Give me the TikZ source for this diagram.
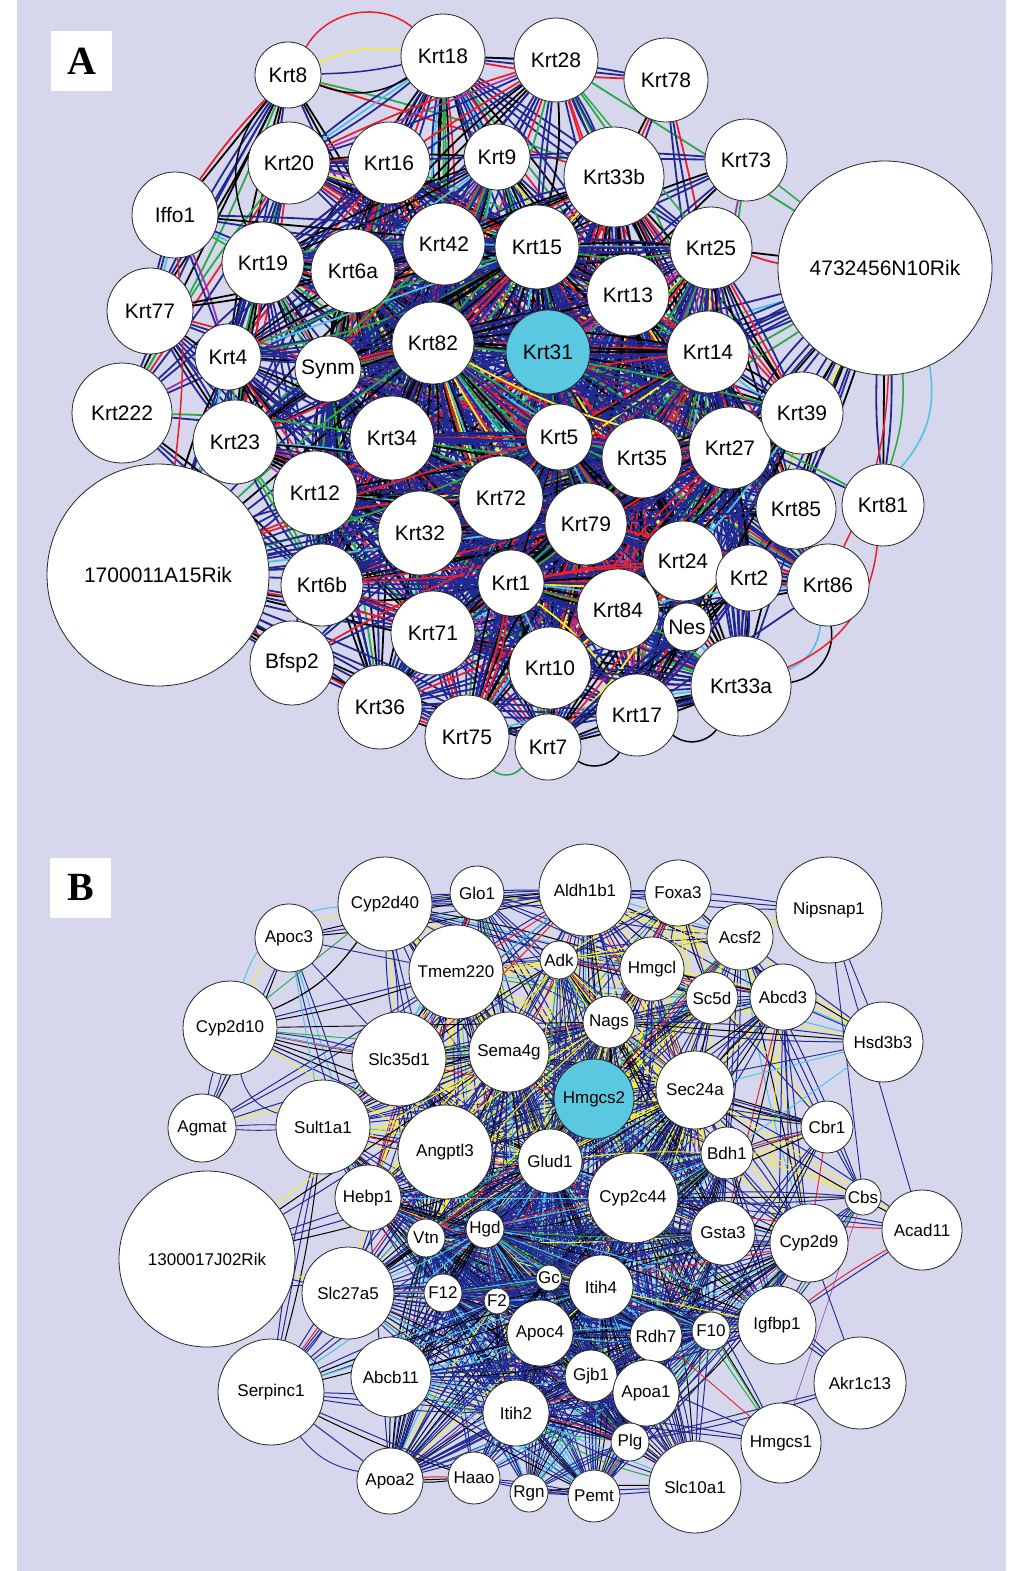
\documentclass[tikz,border=0pt]{standalone}
\usepackage{fontspec}
\setmainfont{Liberation Sans}
\newfontfamily\serifb{Liberation Serif}
\definecolor{bgl}{RGB}{214,214,236}
\definecolor{navy}{RGB}{32,40,145}
\definecolor{ered}{RGB}{235,30,45}
\definecolor{egreen}{RGB}{40,170,70}
\definecolor{ecyan}{RGB}{70,195,230}
\definecolor{eyellow}{RGB}{250,240,40}
\definecolor{epurple}{RGB}{160,50,170}
\definecolor{hub}{RGB}{90,200,225}
\pgfdeclarelayer{bg}\pgfdeclarelayer{edges}
\pgfsetlayers{bg,edges,main}
\def\nodefont{\fontsize{21}{23}\selectfont}
\tikzset{
  gnode/.style={circle, draw=black!85, line width=0.8pt, fill=white, inner sep=0pt, text=black, font=\nodefont},
  hubnode/.style={fill=hub},
  lwA/.style={line width=1.5pt},
  lwB/.style={line width=0.9pt},
  panellabel/.style={fill=white, minimum width=61pt, minimum height=60pt, inner sep=0pt, font=\serifb\bfseries\fontsize{40}{40}\selectfont}
}
% node: [style]{name}{x}{y}{r}{weight}{text}
\newcommand\gn[7][]{%
  \node[gnode,minimum size={2*#5pt},#1] (#2) at (#3,#4) {#7};%
  \expandafter\xdef\csname gr@#2\endcsname{#5}%
  \expandafter\xdef\csname gw@#2\endcsname{#6}%
}
\newcommand\palA{\pgfmathrandominteger{\rc}{1}{100}%
 \ifnum\rc<54 \def\ec{navy}\else
 \ifnum\rc<73 \def\ec{black}\else
 \ifnum\rc<86 \def\ec{ered}\else
 \ifnum\rc<94 \def\ec{egreen}\else
 \ifnum\rc<97 \def\ec{ecyan}\else
 \ifnum\rc<99 \def\ec{eyellow}\else \def\ec{epurple}\fi\fi\fi\fi\fi\fi}
\newcommand\palB{\pgfmathrandominteger{\rc}{1}{100}%
 \pgfmathtruncatemacro\my{-(\ya+\yb)/2}%
 \ifnum\my<1170 \def\ty{22}\def\tc{3}\else\def\ty{3}\def\tc{11}\fi
 \pgfmathtruncatemacro\tC{72+\ty}%
 \pgfmathtruncatemacro\tD{\tC+\tc}%
 \pgfmathtruncatemacro\tE{\tD+2}%
 \pgfmathtruncatemacro\tF{\tE+2}%
 \pgfmathtruncatemacro\tG{\tF+1}%
 \ifnum\rc<56 \def\ec{navy}\else
 \ifnum\rc<73 \def\ec{black}\else
 \ifnum\rc>\tG \def\ec{navy}\else
 \ifnum\rc>\tF \def\ec{epurple}\else
 \ifnum\rc>\tE \def\ec{egreen}\else
 \ifnum\rc>\tD \def\ec{ered}\else
 \ifnum\rc>\tC \def\ec{ecyan}\else \def\ec{eyellow}\fi\fi\fi\fi\fi\fi\fi}
% #1 list, #2 gap threshold, #3 prob factor, #4 palette, #5 width, #6/#7/#8 extra-line chances
\newcommand\mkedges[8]{%
 \foreach \a [count=\i] in #1 {%
  \foreach \b [count=\j] in #1 {%
   \ifnum\j>\i\relax
     \pgfpointanchor{\a}{center}\pgfgetlastxy{\xa}{\ya}%
     \pgfpointanchor{\b}{center}\pgfgetlastxy{\xb}{\yb}%
     \pgfmathtruncatemacro\gap{veclen(\xa-\xb,\ya-\yb)-\csname gr@\a\endcsname-\csname gr@\b\endcsname}%
     \pgfmathtruncatemacro\wp{\csname gw@\a\endcsname*\csname gw@\b\endcsname}%
     \pgfmathtruncatemacro\prob{#3*\wp}%
     \pgfmathrandominteger{\rr}{1}{100}%
     \ifnum\gap<#2\relax \ifnum\rr<\prob\relax
        #4\draw[line width=#5, draw=\ec] (\a) -- (\b);%
        \pgfmathrandominteger{\rs}{1}{100}%
        \ifnum\rs<#6\relax #4\draw[line width=#5, draw=\ec] (\a) to[bend left=4] (\b);\fi
        \pgfmathrandominteger{\rs}{1}{100}%
        \ifnum\rs<#7\relax #4\draw[line width=#5, draw=\ec] (\a) to[bend right=4] (\b);\fi
        \ifnum\wp>5\relax
          \pgfmathrandominteger{\rs}{1}{100}%
          \ifnum\rs<#8\relax #4\draw[line width=#5, draw=\ec] (\a) to[bend left=9] (\b);\fi
          \pgfmathrandominteger{\rs}{1}{100}%
          \ifnum\rs<#8\relax #4\draw[line width=#5, draw=\ec] (\a) to[bend right=9] (\b);\fi
        \fi
     \fi\fi
   \fi
  }%
 }%
}
\def\listA{Krt8,Krt18,Krt28,Krt78,Krt20,Krt16,Krt9,Krt33b,Krt73,RikA,Iffo1,Krt19,Krt6a,Krt42,Krt15,Krt25,Krt13,Krt31,Krt14,Krt77,Krt4,Synm,Krt82,Krt222,Krt23,Krt34,Krt12,Krt32,Krt72,RikB,Krt6b,Bfsp2,Krt71,Krt36,Krt75,Krt5,Krt35,Krt27,Krt39,Krt79,Krt85,Krt81,Krt1,Krt24,Krt2,Krt86,Krt84,Nes,Krt10,Krt33a,Krt17,Krt7}
\def\listB{Cyp2d40,Glo1,Apoc3,Tmem220,Cyp2d10,Slc35d1,Agmat,Sult1a1,Angptl3,Sema4g,Aldh1b1,Foxa3,Nipsnap1,Acsf2,Adk,Hmgcl,Sc5d,Abcd3,Nags,Hsd3b3,Hmgcs2,Sec24a,Cbr1,Bdh1,Glud1,Cyp2c44,Cbs,Acad11,Gsta3,Cyp2d9,Hebp1,Vtn,Hgd,RikC,Slc27a5,F12,F2,Gc,Itih4,Apoc4,Rdh7,F10,Igfbp1,Serpinc1,Abcb11,Gjb1,Apoa1,Akr1c13,Itih2,Plg,Hmgcs1,Apoa2,Haao,Rgn,Pemt,Slc10a1}
\begin{document}
\begin{tikzpicture}[x=1pt,y=-1pt]
\pgfmathsetseed{4242}
\useasboundingbox (0,0) rectangle (1033,1571);
\begin{pgfonlayer}{bg}
  \fill[white] (0,0) rectangle (1033,1571);
  \fill[bgl] (17,0) rectangle (1006,1571);
\end{pgfonlayer}

% ---------------- Panel A ----------------
\node[panellabel] (labA) at (81.5,61) {A};
\def\nodefont{\fontsize{21}{23}\selectfont}
\gn{Krt8}{288}{75}{33}{1}{Krt8}
\gn{Krt18}{443}{56}{42}{2}{Krt18}
\gn{Krt28}{556}{60}{42}{2}{Krt28}
\gn{Krt78}{666}{80}{42}{1}{Krt78}
\gn{Krt20}{289}{163}{41}{2}{Krt20}
\gn{Krt16}{389}{163}{41}{2}{Krt16}
\gn{Krt9}{497}{157}{33}{2}{Krt9}
\gn{Krt33b}{614}{177}{50}{2}{Krt33b}
\gn{Krt73}{746}{160}{41}{1}{Krt73}
\gn{RikA}{885}{268}{107}{2}{4732456N10Rik}
\gn{Iffo1}{175}{215}{43}{1}{Iffo1}
\gn{Krt19}{263}{263}{41}{2}{Krt19}
\gn{Krt6a}{353}{271}{42}{3}{Krt6a}
\gn{Krt42}{444}{244}{41}{3}{Krt42}
\gn{Krt15}{537}{247}{42}{3}{Krt15}
\gn{Krt25}{711}{248}{41}{2}{Krt25}
\gn{Krt13}{628}{295}{41}{3}{Krt13}
\gn[hubnode]{Krt31}{548}{352}{42}{3}{Krt31}
\gn{Krt14}{708}{352}{41}{3}{Krt14}
\gn{Krt77}{150}{311}{43}{1}{Krt77}
\gn{Krt4}{228}{357}{33}{2}{Krt4}
\gn{Synm}{328}{369}{33}{3}{Synm}
\gn{Krt82}{433}{343}{41}{3}{Krt82}
\gn{Krt222}{122}{413}{50}{1}{Krt222}
\gn{Krt23}{235}{442}{42}{2}{Krt23}
\gn{Krt34}{392}{438}{42}{3}{Krt34}
\gn{Krt12}{315}{493}{42}{2}{Krt12}
\gn{Krt32}{420}{533}{42}{3}{Krt32}
\gn{Krt72}{501}{498}{42}{3}{Krt72}
\gn{RikB}{158}{575}{111}{2}{1700011A15Rik}
\gn{Krt6b}{322}{585}{41}{2}{Krt6b}
\gn{Bfsp2}{292}{663}{42}{1}{Bfsp2}
\gn{Krt71}{433}{633}{42}{3}{Krt71}
\gn{Krt36}{380}{707}{42}{2}{Krt36}
\gn{Krt75}{467}{737}{42}{2}{Krt75}
\gn{Krt5}{559}{437}{33}{3}{Krt5}
\gn{Krt35}{642}{458}{40}{3}{Krt35}
\gn{Krt27}{730}{448}{41}{3}{Krt27}
\gn{Krt39}{802}{413}{41}{2}{Krt39}
\gn{Krt79}{586}{524}{41}{3}{Krt79}
\gn{Krt85}{796}{509}{40}{2}{Krt85}
\gn{Krt81}{883}{505}{41}{1}{Krt81}
\gn{Krt1}{511}{583}{33}{3}{Krt1}
\gn{Krt24}{683}{561}{40}{3}{Krt24}
\gn{Krt2}{749}{578}{33}{2}{Krt2}
\gn{Krt86}{828}{585}{41}{2}{Krt86}
\gn{Krt84}{618}{610}{41}{3}{Krt84}
\gn{Nes}{687}{627}{24}{2}{Nes}
\gn{Krt10}{550}{668}{41}{3}{Krt10}
\gn{Krt33a}{741}{686}{50}{2}{Krt33a}
\gn{Krt17}{637}{715}{41}{2}{Krt17}
\gn{Krt7}{548}{747}{33}{2}{Krt7}

% ---------------- Panel B ----------------
\node[panellabel] (labB) at (80.5,887.5) {B};
\def\nodefont{\fontsize{17}{19}\selectfont}
\gn{Cyp2d40}{385}{904}{47}{2}{Cyp2d40}
\gn{Glo1}{477}{893}{27}{2}{Glo1}
\gn{Apoc3}{289}{938}{34}{1}{Apoc3}
\gn{Tmem220}{456}{972}{47}{2}{Tmem220}
\gn{Cyp2d10}{230}{1028}{47}{1}{Cyp2d10}
\gn{Slc35d1}{399}{1059}{47}{2}{Slc35d1}
\gn{Agmat}{202}{1128}{34}{1}{Agmat}
\gn{Sult1a1}{323}{1127}{47}{2}{Sult1a1}
\gn{Angptl3}{445}{1152}{47}{3}{Angptl3}
\gn{Sema4g}{509}{1052}{40}{3}{Sema4g}
\gn{Aldh1b1}{585}{890}{46}{2}{Aldh1b1}
\gn{Foxa3}{678}{893}{33}{2}{Foxa3}
\gn{Nipsnap1}{829}{910}{53}{1}{Nipsnap1}
\gn{Acsf2}{740}{937}{33}{2}{Acsf2}
\gn{Adk}{559}{960}{19}{2}{Adk}
\gn{Hmgcl}{652}{969}{32}{2}{Hmgcl}
\gn{Sc5d}{712}{998}{26}{2}{Sc5d}
\gn{Abcd3}{783}{997}{33}{2}{Abcd3}
\gn{Nags}{609}{1022}{26}{3}{Nags}
\gn{Hsd3b3}{883}{1042}{40}{1}{Hsd3b3}
\gn[hubnode]{Hmgcs2}{594}{1099}{40}{3}{Hmgcs2}
\gn{Sec24a}{695}{1090}{39}{3}{Sec24a}
\gn{Cbr1}{827}{1127}{26}{1}{Cbr1}
\gn{Bdh1}{727}{1153}{26}{2}{Bdh1}
\gn{Glud1}{550}{1161}{32}{3}{Glud1}
\gn{Cyp2c44}{633}{1198}{45}{3}{Cyp2c44}
\gn{Cbs}{863}{1197}{18}{1}{Cbs}
\gn{Acad11}{922}{1230}{40}{1}{Acad11}
\gn{Gsta3}{723}{1233}{32}{2}{Gsta3}
\gn{Cyp2d9}{809}{1243}{39}{2}{Cyp2d9}
\gn{Hebp1}{368}{1198}{33}{2}{Hebp1}
\gn{Vtn}{426}{1238}{19}{3}{Vtn}
\gn{Hgd}{485}{1229}{19}{3}{Hgd}
\gn{RikC}{207}{1259}{88}{1}{1300017J02Rik}
\gn{Slc27a5}{348}{1293}{46}{2}{Slc27a5}
\gn{F12}{443}{1293}{19}{3}{F12}
\gn{F2}{497}{1301}{13}{3}{F2}
\gn{Gc}{549}{1278}{13}{3}{Gc}
\gn{Itih4}{601}{1287}{32}{3}{Itih4}
\gn{Apoc4}{540}{1333}{33}{3}{Apoc4}
\gn{Rdh7}{656}{1336}{26}{3}{Rdh7}
\gn{F10}{711}{1331}{19}{3}{F10}
\gn{Igfbp1}{777}{1325}{39}{2}{Igfbp1}
\gn{Serpinc1}{271}{1392}{53}{1}{Serpinc1}
\gn{Abcb11}{391}{1377}{40}{2}{Abcb11}
\gn{Gjb1}{591}{1376}{26}{3}{Gjb1}
\gn{Apoa1}{646}{1393}{33}{3}{Apoa1}
\gn{Akr1c13}{860}{1383}{46}{1}{Akr1c13}
\gn{Itih2}{516}{1413}{33}{3}{Itih2}
\gn{Plg}{630}{1442}{19}{3}{Plg}
\gn{Hmgcs1}{781}{1443}{40}{1}{Hmgcs1}
\gn{Apoa2}{390}{1481}{33}{2}{Apoa2}
\gn{Haao}{474}{1478}{26}{2}{Haao}
\gn{Rgn}{529}{1493}{19}{2}{Rgn}
\gn{Pemt}{594}{1496}{26}{2}{Pemt}
\gn{Slc10a1}{695}{1487}{46}{2}{Slc10a1}

% ---------------- Edges ----------------
\begin{pgfonlayer}{edges}
\mkedges{\listA}{300}{11}{\palA}{1.8pt}{85}{65}{55}
\mkedges{\listB}{270}{11}{\palB}{1.0pt}{80}{65}{50}
% panel A extra curved connectors
\draw[ered,lwA] (Krt8) to[bend left=50] (Krt18);
\draw[eyellow,lwA] (Krt8) to[bend left=15] (Krt18);
\draw[navy,lwA] (Krt8) to[bend right=5] (Krt18);
\draw[black,lwA] (Krt8) to[bend right=25] (Krt18);
\draw[black,lwA] (Krt8) to[bend right=32] (Krt19);
\draw[black,lwA] (Krt18) -- (Krt28);
\draw[ered,lwA] (Iffo1) to[bend left=6] (RikB);
\draw[ecyan,lwA] (RikA) to[bend left=25] (Krt81);
\draw[egreen,lwA] (RikA) to[bend left=10] (Krt81);
\draw[ered,lwA] (RikA) to[bend left=12] (Krt86);
\draw[egreen,lwA] (Krt73) -- (RikA);
\draw[egreen,lwA] (Krt28) -- (Krt25);
\draw[black,lwA] (Krt7) to[bend right=45] (Krt17);
\draw[black,lwA] (Krt17) to[bend right=45] (Krt33a);
\draw[egreen,lwA] (Krt75) to[bend right=45] (Krt7);
\draw[ecyan,lwA] (Krt33a) to[bend right=30] (Krt86);
\draw[black,lwA] (Krt33a) to[bend right=45] (Krt86);
\draw[ered,lwA] (Krt33a) to[bend right=30] (Krt81);
% panel B extra connectors
\draw[black,line width=1.2pt] (Cyp2d40) to[bend left=15] (Cyp2d10);
\draw[eyellow,lwB] (Cyp2d40) to[bend right=25] (Cyp2d10);
\draw[ecyan,lwB] (Cyp2d40) to[bend right=35] (Cyp2d10);
\draw[egreen,lwB] (Cyp2d40) -- (Cyp2d10);
\draw[navy,lwB] (Agmat) to[bend left=3] (Sult1a1);
\draw[navy,lwB] (Agmat) to[bend right=3] (Sult1a1);
\draw[navy,lwB] (Agmat) to[bend left=5] (Cyp2d10);
\draw[navy,lwB] (Agmat) to[bend right=5] (Cyp2d10);
\draw[navy,lwB] (Cyp2d10) to[bend right=30] (Sult1a1);
\draw[ered,lwB] (Cyp2d10) -- (Hmgcs2);
\draw[egreen,lwB] (Cyp2d10) -- (Sema4g);
\draw[eyellow,lwB] (Cyp2d10) -- (Angptl3);
\draw[ecyan,lwB] (Cyp2d10) -- (Slc35d1);
\draw[black,lwB] (Cyp2d10) -- (Nags);
\draw[ecyan,lwB] (Apoc3) -- (Sult1a1);
\draw[navy,lwB] (Apoc3) -- (Slc35d1);
\draw[navy,lwB] (Apoc3) -- (Tmem220);
\draw[epurple,line width=0.6pt] (Cbs) -- (Hmgcs1);
\draw[navy,lwB] (Nipsnap1) -- (Cbs);
\draw[navy,lwB] (Nipsnap1) -- (Acad11);
\draw[navy,lwB] (Nipsnap1) -- (Hsd3b3);
\draw[ecyan,lwB] (Hsd3b3) -- (Sec24a);
\draw[ecyan,lwB] (Hsd3b3) -- (Bdh1);
\draw[navy,lwB] (Hsd3b3) -- (Hmgcs2);
\draw[navy,lwB] (Serpinc1) to[bend right=20] (Apoa2);
\draw[ered,lwB] (Rdh7) -- (Hmgcs1);
\draw[egreen,lwB] (F10) -- (Hmgcs1);
\draw[ered,lwB] (Hmgcs2) -- (Acsf2);
\draw[egreen,lwB] (Hmgcs2) to[bend left=4] (Acsf2);
\draw[ered,lwB] (Vtn) -- (Hmgcs2);
\draw[egreen,lwB] (Vtn) to[bend left=4] (Hmgcs2);
\draw[ered,lwB] (Bdh1) -- (Cbr1);
\draw[ered,lwB] (Cbr1) -- (Cyp2d9);
\draw[navy,lwB] (Akr1c13) -- (Igfbp1);
\draw[navy,lwB] (Akr1c13) -- (Cyp2d9);
\end{pgfonlayer}
\end{tikzpicture}
\end{document}
